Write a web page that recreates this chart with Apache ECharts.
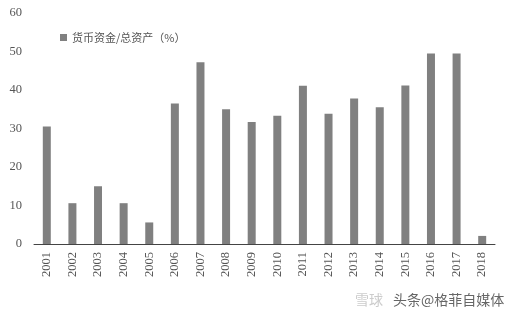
<!DOCTYPE html>
<html><head><meta charset="utf-8">
<script src="https://cdn.jsdelivr.net/npm/echarts@6/dist/echarts.min.js"></script>
<style>html,body{margin:0;padding:0;background:#fff}#c{width:510px;height:321px}</style>
</head><body><div id="c"></div>
<script>
const categories = ['2001','2002','2003','2004','2005','2006','2007','2008','2009','2010','2011','2012','2013','2014','2015','2016','2017','2018'];
const values = [30.5,10.6,15.0,10.6,5.6,36.5,47.2,35.0,31.7,33.3,41.1,33.8,37.8,35.5,41.2,49.5,49.5,2.1];
const yTicks = {min:0, max:60, interval:10};
const seriesName = '货币资金/总资产（%）';

const chart = echarts.init(document.getElementById('c'));
chart.setOption({
  animation:false,
  backgroundColor:'#fff',
  grid:{left:34,right:15,top:13,bottom:77},
  legend:{
    data:[seriesName], left:55, top:27, itemWidth:7, itemHeight:7, itemGap:3,
    icon:'rect',
    textStyle:{color:'#555',fontSize:11,fontFamily:'Noto Sans CJK SC'}
  },
  xAxis:{
    type:'category', data:categories,
    axisLine:{lineStyle:{color:'#444',width:1}},
    axisTick:{show:false},
    axisLabel:{rotate:90,color:'#555',fontSize:12.5,fontFamily:'Liberation Serif',margin:8,interval:0}
  },
  yAxis:{
    type:'value', min:yTicks.min, max:yTicks.max, interval:yTicks.interval,
    axisLine:{show:false}, axisTick:{show:false}, splitLine:{show:false},
    axisLabel:{color:'#555',fontSize:12.5,fontFamily:'Liberation Serif',margin:12}
  },
  series:[{
    name:seriesName, type:'bar', data:values, barWidth:8,
    itemStyle:{color:'#808080'}
  }],
  graphic:[
    {type:'text',left:355,top:293,style:{text:'雪球',fill:'#ccc',font:'14px "Noto Sans CJK SC"'}},
    {type:'text',left:393,top:293,style:{text:'头条@格菲自媒体',fill:'#666',font:'14px "Noto Sans CJK SC"'}}
  ]
});
</script></body></html>
